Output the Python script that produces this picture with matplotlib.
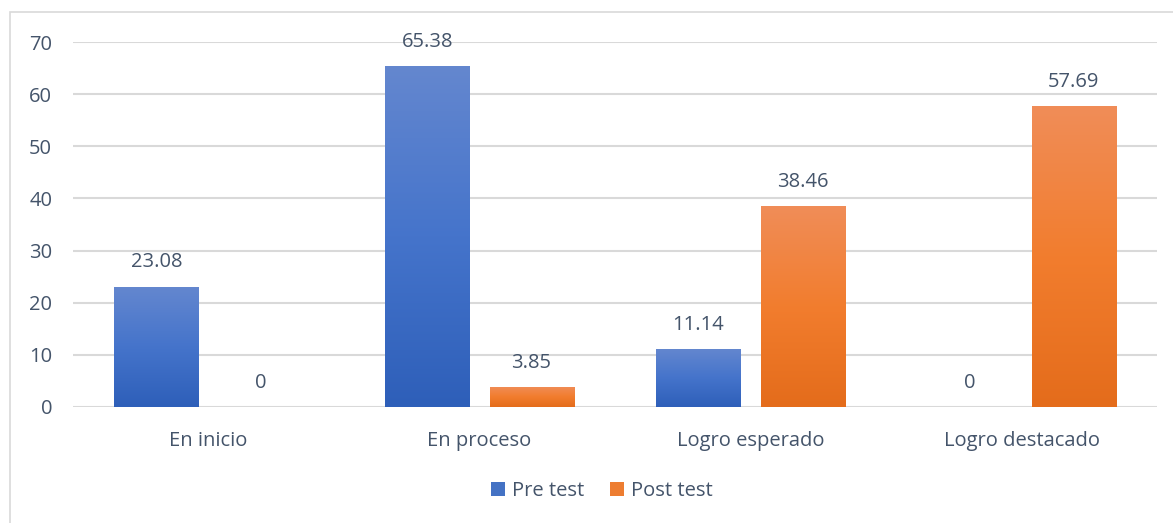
import matplotlib
matplotlib.use("Agg")
import matplotlib.pyplot as plt
import numpy as np
from matplotlib.colors import LinearSegmentedColormap
from matplotlib.patches import Rectangle, Patch

categories = ["En inicio", "En proceso", "Logro esperado", "Logro destacado"]
pre_test = [23.08, 65.38, 11.14, 0]
post_test = [0, 3.85, 38.46, 57.69]
series_names = ["Pre test", "Post test"]
yticks = [0, 10, 20, 30, 40, 50, 60, 70]

plt.rcParams['font.family'] = ['Open Sans', 'DejaVu Sans']
text_color = "#44546A"
grid_color = "#D9D9D9"
fs = 14.5

fig = plt.figure(figsize=(11.73, 5.23), dpi=100)
# outer chart frame (cropped at right/bottom)
fig.patches.append(Rectangle((10/1173, -0.05), 1.2, 1 - 12/523 + 0.05, transform=fig.transFigure,
                             fill=False, edgecolor="#D9D9D9", linewidth=1.2))

ax = fig.add_axes([73/1173, 1 - 407/523, (1157 - 73)/1173, (407 - 42)/523])
ax.set_xlim(-0.5, len(categories) - 0.5)
ax.set_ylim(0, 70)
for s in ax.spines.values():
    s.set_visible(False)
ax.set_yticks(yticks)
ax.yaxis.grid(True, color=grid_color, linewidth=1.5)
ax.set_axisbelow(True)
ax.tick_params(axis='both', length=0, labelsize=fs, colors=text_color)
ax.tick_params(axis='y', pad=15)
ax.tick_params(axis='x', pad=17)
ax.set_xticks(range(len(categories)))
ax.set_xticklabels(categories)

width = 0.31
offset = 0.192
blue_cmap = LinearSegmentedColormap.from_list("b", ["#2E5FB9", "#4574CB", "#6487CF"])
orange_cmap = LinearSegmentedColormap.from_list("o", ["#E46C1B", "#F27D2E", "#F08D58"])

def grad_bars(xs, vals, cmap, color):
    bars = ax.bar(xs, vals, width, color=color, zorder=2)
    for b, v in zip(bars, vals):
        if v <= 0:
            continue
        x0 = b.get_x()
        grad = np.linspace(0, 1, 256).reshape(-1, 1)
        im = ax.imshow(grad, cmap=cmap, aspect='auto', origin='lower',
                       extent=[x0, x0 + width, 0, v], zorder=3, interpolation='bicubic')
        im.set_clip_path(b)
    for x, v in zip(xs, vals):
        ax.annotate(f"{v:g}" if v != 0 else "0", (x, v), xytext=(0, 17.5), textcoords="offset points",
                    ha='center', va='center', fontsize=fs, color=text_color)
    return bars

x = np.arange(len(categories))
grad_bars(x - offset, pre_test, blue_cmap, "#4472C4")
grad_bars(x + offset, post_test, orange_cmap, "#ED7D31")
ax.set_xlim(-0.5, len(categories) - 0.5)
ax.set_ylim(0, 70)

handles = [Patch(facecolor="#4472C4"), Patch(facecolor="#ED7D31")]
fig.legend(handles, series_names, loc='center', bbox_to_anchor=(602/1173, 1 - 491/523), ncol=2,
           frameon=False, fontsize=fs, labelcolor=text_color, handlelength=0.7, handleheight=0.7,
           handletextpad=0.35, columnspacing=1.3)

fig.savefig("out.png", dpi=100)
